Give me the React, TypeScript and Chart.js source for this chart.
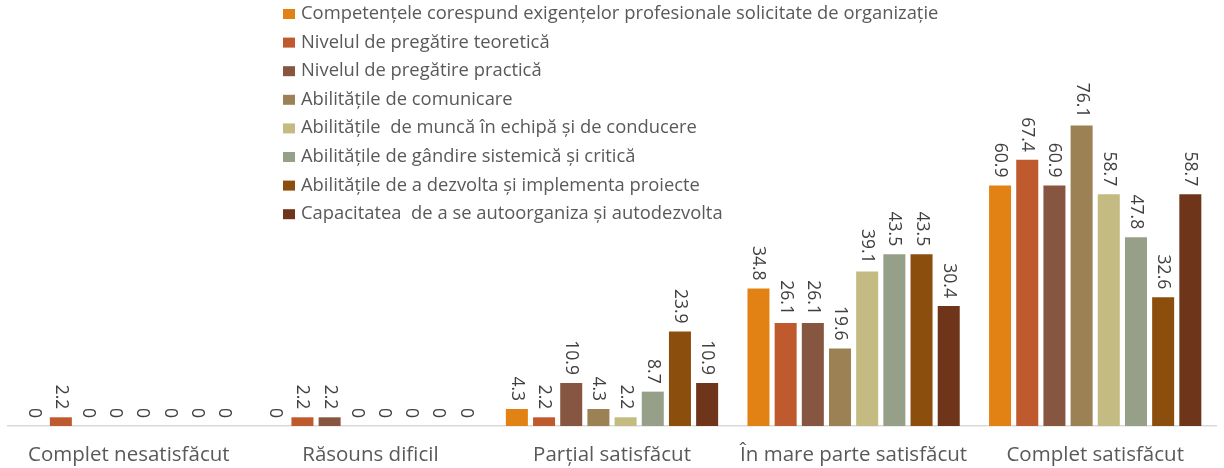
import React, { useEffect, useRef } from "react";
import { Chart, registerables } from "chart.js";

Chart.register(...registerables);

const categories = [
  "Complet nesatisfăcut",
  "Răsouns dificil",
  "Parțial satisfăcut",
  "În mare parte satisfăcut",
  "Complet satisfăcut",
];

const seriesNames = [
  "Competențele corespund exigențelor profesionale solicitate de organizație",
  "Nivelul de pregătire teoretică",
  "Nivelul de pregătire practică",
  "Abilitățile de comunicare",
  "Abilitățile  de muncă în echipă și de conducere",
  "Abilitățile de gândire sistemică și critică",
  "Abilitățile de a dezvolta și implementa proiecte",
  "Capacitatea  de a se autoorganiza și autodezvolta",
];

const competente = [0, 0, 4.3, 34.8, 60.9];
const teoretica = [2.2, 2.2, 2.2, 26.1, 67.4];
const practica = [0, 2.2, 10.9, 26.1, 60.9];
const comunicare = [0, 0, 4.3, 19.6, 76.1];
const echipa = [0, 0, 2.2, 39.1, 58.7];
const gandire = [0, 0, 8.7, 43.5, 47.8];
const proiecte = [0, 0, 23.9, 43.5, 32.6];
const autoorganizare = [0, 0, 10.9, 30.4, 58.7];

const seriesValues = [competente, teoretica, practica, comunicare, echipa, gandire, proiecte, autoorganizare];

const colors = ["#E38214", "#BE5A2E", "#865640", "#9C8155", "#C3BB82", "#96A088", "#8B4E0D", "#6F351B"];

const FONT = "'Open Sans', 'DejaVu Sans', sans-serif";

const valueLabelPlugin = {
  id: "valueLabels",
  afterDatasetsDraw(chart: any) {
    const ctx = chart.ctx;
    ctx.save();
    ctx.font = `17.5px ${FONT}`;
    ctx.fillStyle = "#404040";
    ctx.textAlign = "right";
    ctx.textBaseline = "middle";
    chart.data.datasets.forEach((ds: any, i: number) => {
      const meta = chart.getDatasetMeta(i);
      meta.data.forEach((el: any, j: number) => {
        const v = ds.data[j];
        ctx.save();
        ctx.translate(el.x, el.y - 8);
        ctx.rotate(Math.PI / 2);
        ctx.fillText(String(v), 0, 0);
        ctx.restore();
      });
    });
    ctx.restore();
  },
};

const legendPlugin = {
  id: "overlayLegend",
  afterDraw(chart: any) {
    const ctx = chart.ctx;
    ctx.save();
    ctx.font = `17.5px ${FONT}`;
    ctx.textAlign = "left";
    ctx.textBaseline = "middle";
    const x0 = 283;
    const y0 = 14;
    const step = 28.6;
    chart.data.datasets.forEach((ds: any, i: number) => {
      const y = y0 + i * step;
      ctx.fillStyle = ds.backgroundColor;
      ctx.fillRect(x0, y - 5, 12, 10);
      ctx.fillStyle = "#595959";
      ctx.save();
      ctx.translate(x0 + 18, y);
      ctx.scale(1.05, 1);
      ctx.fillText(ds.label, 0, 0);
      ctx.restore();
    });
    ctx.restore();
  },
};

export default function App() {
  const ref = useRef<HTMLCanvasElement | null>(null);
  useEffect(() => {
    if (!ref.current) return;
    const chart = new Chart(ref.current, {
      type: "bar",
      data: {
        labels: categories,
        datasets: seriesNames.map((name, i) => ({
          label: name,
          data: seriesValues[i],
          backgroundColor: colors[i],
          categoryPercentage: 0.9,
          barPercentage: 0.81,
        })),
      },
      options: {
        animation: false,
        responsive: true,
        maintainAspectRatio: false,
        layout: { padding: { left: 8, right: 8, top: 31, bottom: 0 } },
        plugins: {
          legend: { display: false },
          tooltip: { enabled: false },
        },
        scales: {
          x: {
            grid: { display: false },
            border: { display: true, color: "#D9D9D9", width: 1.5 },
            ticks: {
              color: "#595959",
              font: { family: FONT, size: 20.5 },
              padding: 9,
              maxRotation: 0,
            },
            afterFit(scale: any) {
              scale.height = 42;
            },
          },
          y: {
            display: false,
            min: 0,
            max: 100,
          },
        },
      },
      plugins: [valueLabelPlugin, legendPlugin],
    });
    return () => chart.destroy();
  }, []);
  return (
    <div style={{ position: "absolute", left: 0, top: 0, width: 1224, height: 468, background: "#fff" }}>
      <canvas ref={ref} />
    </div>
  );
}
